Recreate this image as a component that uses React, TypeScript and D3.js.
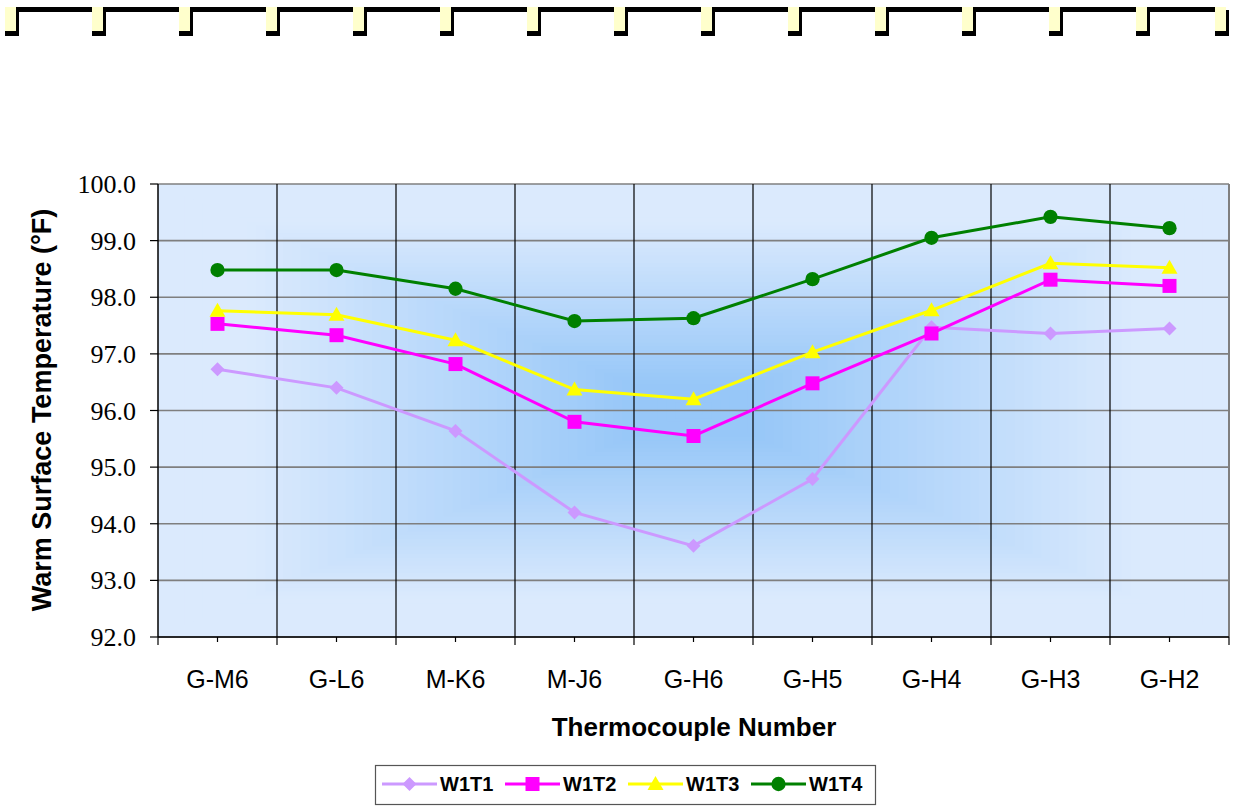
import React from "react";
import * as d3 from "d3";

const categories = ["G-M6", "G-L6", "M-K6", "M-J6", "G-H6", "G-H5", "G-H4", "G-H3", "G-H2"];
const w1t1 = [96.73, 96.4, 95.64, 94.2, 93.61, 94.79, 97.47, 97.36, 97.45];
const w1t2 = [97.53, 97.33, 96.82, 95.8, 95.55, 96.48, 97.36, 98.31, 98.2];
const w1t3 = [97.76, 97.69, 97.24, 96.37, 96.2, 97.03, 97.77, 98.6, 98.52];
const w1t4 = [98.48, 98.48, 98.15, 97.58, 97.63, 98.32, 99.05, 99.42, 99.22];
const yTicks = [92, 93, 94, 95, 96, 97, 98, 99, 100];
const seriesNames = ["W1T1", "W1T2", "W1T3", "W1T4"];
const seriesColors = ["#cc99ff", "#ff00ff", "#ffff00", "#008000"];
const seriesMarkers = ["diamond", "square", "triangle", "circle"];
const seriesValues = [w1t1, w1t2, w1t3, w1t4];

const W = 1238;
const H = 806;
const plot = { left: 158, right: 1229, top: 184, bottom: 637 };

const SERIF = "Times New Roman, Liberation Serif, DejaVu Serif, serif";
const SANS = "Liberation Sans, Arial, sans-serif";

function Marker({ kind, x, y, color }: { kind: string; x: number; y: number; color: string }) {
  let p: string;
  if (kind === "circle") {
    p = d3.symbol(d3.symbolCircle, 160)() as string;
  } else if (kind === "square") {
    p = "M-7,-7H7V7H-7Z";
  } else if (kind === "diamond") {
    p = "M0,-7L7,0L0,7L-7,0Z";
  } else {
    p = "M0,-8L8,6H-8Z";
  }
  return <path d={p} transform={`translate(${x},${y})`} fill={color} stroke="none" />;
}

export default function App() {
  const x = d3.scaleBand<string>().domain(categories).range([plot.left, plot.right]);
  const y = d3.scaleLinear().domain([92, 100]).range([plot.bottom, plot.top]);
  const cx = (c: string) => (x(c) as number) + x.bandwidth() / 2;

  const line = d3
    .line<number>()
    .x((_, i) => cx(categories[i]))
    .y((v) => y(v));

  const pw = plot.right - plot.left;
  const ph = plot.bottom - plot.top;
  const pcx = (plot.left + plot.right) / 2;
  const pcy = (plot.top + plot.bottom) / 2;
  const colorAt = d3.interpolateRgb("#97c7f8", "#dbeafd");
  const steps = d3.range(60, 0, -1).map((k) => k / 60);

  const decoX = d3.range(14).map((i) => 5 + 87 * i).concat([1215]);

  return (
    <svg width={W} height={H} style={{ position: "absolute", left: 0, top: 0, background: "#fff" }}>
      <g>
        {decoX.map((dx, i) => (
          <g key={i}>
            {i < decoX.length - 1 && <rect x={dx + 11} y={7} width={decoX[i + 1] - dx - 11} height={5} fill="#000" />}
            <rect x={dx} y={7} width={11} height={25} fill="#ffffcc" />
            <rect x={dx + 11} y={10} width={3} height={26} fill="#000" />
            <rect x={dx} y={31} width={14} height={5} fill="#000" />
          </g>
        ))}
      </g>

      <rect x={plot.left} y={plot.top} width={pw} height={ph} fill="#dbeafd" />
      {steps.map((t) => {
        const c = colorAt(Math.min(1, Math.max(0, (t - 0.12) / 0.72)));
        return (
          <rect
            key={t}
            x={pcx - (t * pw) / 2}
            y={pcy - (t * ph) / 2}
            width={t * pw}
            height={t * ph}
            fill={c}
          />
        );
      })}

      {yTicks.map((v) => (
        <line key={v} x1={plot.left} x2={plot.right} y1={y(v)} y2={y(v)} stroke="#7f7f7f" strokeWidth={1.6} />
      ))}
      {categories.slice(1).map((c) => (
        <line key={c} x1={x(c)} x2={x(c)} y1={plot.top} y2={plot.bottom} stroke="#000" strokeWidth={1.2} />
      ))}
      <line x1={plot.right} x2={plot.right} y1={plot.top} y2={plot.bottom} stroke="#7f7f7f" strokeWidth={2} />

      <line x1={plot.left} x2={plot.left} y1={plot.top} y2={plot.bottom} stroke="#000" strokeWidth={1.5} />
      <line x1={plot.left} x2={plot.right} y1={plot.bottom} y2={plot.bottom} stroke="#000" strokeWidth={1.5} />
      {yTicks.map((v) => (
        <g key={v}>
          <line x1={plot.left - 8} x2={plot.left} y1={y(v)} y2={y(v)} stroke="#000" strokeWidth={1.2} />
          <text x={136} y={y(v) + 9} textAnchor="end" fontFamily={SERIF} fontSize={26} fill="#000">
            {v.toFixed(1)}
          </text>
        </g>
      ))}
      {categories.map((c) => (
        <line key={"b" + c} x1={x(c)} x2={x(c)} y1={plot.bottom} y2={plot.bottom + 8} stroke="#000" strokeWidth={1.2} />
      ))}
      <line x1={plot.right} x2={plot.right} y1={plot.bottom} y2={plot.bottom + 8} stroke="#000" strokeWidth={1.2} />
      {categories.map((c) => (
        <g key={"m" + c}>
          <line x1={cx(c)} x2={cx(c)} y1={plot.bottom} y2={plot.bottom + 5} stroke="#000" strokeWidth={1.2} />
          <text x={cx(c)} y={688} textAnchor="middle" fontFamily={SANS} fontSize={25} fill="#000">
            {c}
          </text>
        </g>
      ))}

      <text x={694} y={736} textAnchor="middle" fontFamily={SANS} fontSize={26} fontWeight="bold" fill="#000">
        Thermocouple Number
      </text>
      <text
        transform={`translate(51,${410}) rotate(-90)`}
        textAnchor="middle"
        fontFamily={SANS}
        fontSize={27}
        fontWeight="bold"
        fill="#000"
      >
        Warm Surface Temperature (°F)
      </text>

      {seriesValues.map((vals, si) => (
        <g key={si}>
          <path d={line(vals) as string} fill="none" stroke={seriesColors[si]} strokeWidth={3} />
          {vals.map((v, i) => (
            <Marker key={i} kind={seriesMarkers[si]} x={cx(categories[i])} y={y(v)} color={seriesColors[si]} />
          ))}
        </g>
      ))}

      <rect x={375.5} y={765.5} width={500} height={39} fill="#fff" stroke="#555" strokeWidth={1.2} />
      {seriesNames.map((n, i) => {
        const lx = 382 + i * 123;
        return (
          <g key={n}>
            <line x1={lx} x2={lx + 55} y1={784} y2={784} stroke={seriesColors[i]} strokeWidth={3} />
            <Marker kind={seriesMarkers[i]} x={lx + 27.5} y={784} color={seriesColors[i]} />
            <text x={lx + 58} y={791} fontFamily={SANS} fontSize={20} fontWeight="bold" fill="#000">
              {n}
            </text>
          </g>
        );
      })}
    </svg>
  );
}
